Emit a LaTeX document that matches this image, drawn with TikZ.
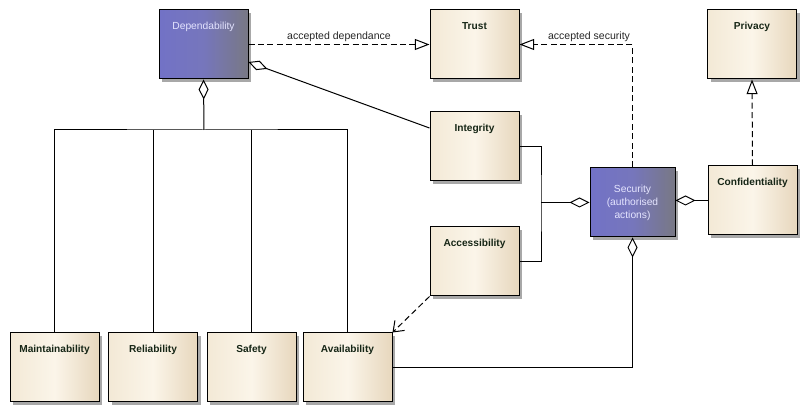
\documentclass[tikz,border=0pt]{standalone}
\usepackage{fontspec}
\setmainfont{Liberation Sans}
\usepackage{tikz}
\usetikzlibrary{positioning,calc,arrows.meta,shadows}
\definecolor{beigeleft}{RGB}{243,233,214}
\definecolor{beigemid}{RGB}{251,245,233}
\definecolor{beigeright}{RGB}{231,215,189}
\definecolor{blueleft}{RGB}{114,114,198}
\definecolor{bluemid}{RGB}{118,118,188}
\definecolor{blueright}{RGB}{120,120,132}
\definecolor{conceptink}{RGB}{22,38,22}
\definecolor{shadowgrey}{RGB}{168,168,168}

\begin{document}
\begin{tikzpicture}[x=0.75pt, y=-0.75pt, line width=0.75pt, classbox/.style={draw=black, minimum width=66.75pt, minimum height=51.75pt, inner ysep=0pt, drop shadow={shadow xshift=2.25pt, shadow yshift=-2.25pt, fill=shadowgrey, opacity=1}}, toptext/.style={text height=14.6pt, text depth=37.15pt}, concept/.style={classbox, toptext, left color=beigeleft, right color=beigeright, middle color=beigemid, text=conceptink, font=\fontsize{7.6}{8.8}\selectfont\bfseries}, keyconcept/.style={classbox, left color=blueleft, right color=blueright, middle color=bluemid, text=white!90!blue, align=center, font=\fontsize{7.7}{9.75}\selectfont}, note/.style={font=\fontsize{7.9}{9.5}\selectfont, text=black!85, inner sep=1.5pt}, realize/.style={dash pattern=on 4.5pt off 2.6pt, -{Triangle[open, length=11pt, width=8.25pt, fill=white]}}, has/.style={-{Diamond[open, length=15pt, width=7.5pt, fill=white]}}, uses/.style={dash pattern=on 4.5pt off 2.6pt, -{Straight Barb[length=7pt, width=10.5pt]}}]
\useasboundingbox (0,0) rectangle (808,413);
\node[keyconcept, toptext] (dep) at (203.5,44.5) {Dependability};
\node[concept] (trust) at (474.5,44.5) {Trust};
\node[concept] (privacy) at (752,44.5) {Privacy};
\node[concept] (integ) at (474.5,146.5) {Integrity};
\node[concept] (access) at (474.5,261.5) {Accessibility};
\node[keyconcept, minimum width=63.75pt] (secu) at (632.5,202.5) {Security\\(authorised\\actions)};
\node[concept] (conf) at (752.5,200.5) {Confidentiality};
\node[concept] (maint) at (54.5,367.5) {Maintainability};
\node[concept] (reli) at (153,367.5) {Reliability};
\node[concept] (safety) at (251.5,367.5) {Safety};
\node[concept] (avail) at (347.5,367.5) {Availability};
\coordinate (bus) at (204,130);
\coordinate (join) at (541,202.5);
\draw[realize] (dep.east) -- node[note, above] (ldep) {accepted dependance} (trust.west);
\draw[realize] (secu.north) |- node[note, pos=0.5, above left] (lsec) {accepted security} (trust.east);
\draw[realize] (conf.north) -- (privacy.south);
\draw[has] (bus) -- (dep.south);
\draw (maint.north) |- (bus) -| (avail.north);
\draw (reli.north) -- (reli.north |- bus);
\draw (safety.north) -- (safety.north |- bus);
\draw[has] ($(integ.west)+(0,-18.5)$) -- ($(dep.east)+(0,17.5)$);
\draw (integ.east) -| (join) |- (access.east);
\draw[has] (join) -- (secu.west);
\draw[has] (conf.west) -- (secu.east |- conf.west);
\draw[has] (avail.east) -| (secu.south);
\draw[uses] (access.south west) -- (avail.north east);
\end{tikzpicture}
\end{document}
